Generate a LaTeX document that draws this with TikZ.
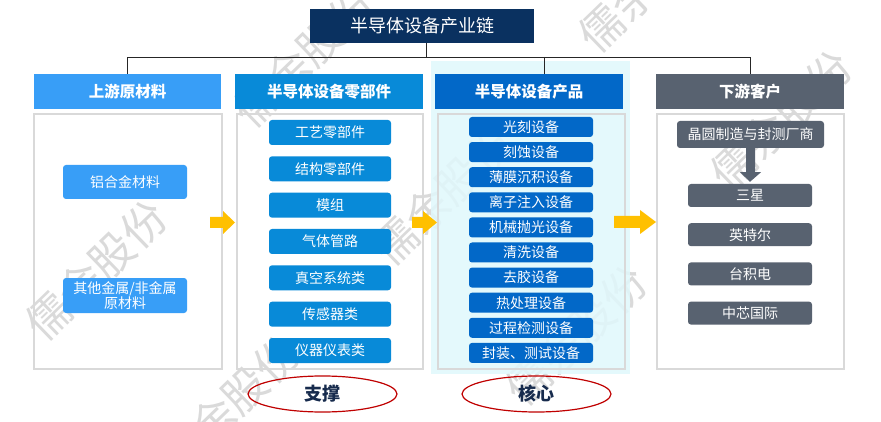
\documentclass[tikz,border=0pt]{standalone}
\usepackage{fontspec}
\setmainfont{Noto Sans CJK SC}
\usetikzlibrary{shapes.geometric}
\definecolor{ctitle}{RGB}{10,49,96}
\definecolor{cone}{RGB}{56,158,247}
\definecolor{ctwo}{RGB}{8,138,216}
\definecolor{cthree}{RGB}{2,104,200}
\definecolor{cfour}{RGB}{88,98,112}
\definecolor{cbg}{RGB}{224,248,252}
\definecolor{cpanel}{RGB}{217,217,217}
\definecolor{cyellow}{RGB}{255,192,0}
\definecolor{cred}{RGB}{192,0,0}
\definecolor{cnavy}{RGB}{23,43,77}
\definecolor{cwm}{RGB}{218,218,218}
\begin{document}
\begin{tikzpicture}[x=1pt,y=-1pt,
  wm/.style={text=cwm, rotate=44, inner sep=0pt, font=\fontsize{44}{44}\selectfont},
  hdr/.style={minimum width=188pt, minimum height=35pt, inner sep=0pt, text=white,
    font=\bfseries\fontsize{15.5}{18}\selectfont},
  panel/.style={draw=cpanel, line width=1.3pt, minimum height=255pt, inner sep=0pt},
  item/.style={rounded corners=3pt, inner sep=0pt, text=white, align=center,
    font=\fontsize{14}{16}\selectfont},
  itemone/.style={item, fill=cone, minimum width=124pt, minimum height=34pt},
  itemtwo/.style={item, fill=ctwo, minimum width=122pt, minimum height=25pt},
  itemthree/.style={item, fill=cthree, minimum width=124pt, minimum height=20pt},
  itemfour/.style={item, fill=cfour, minimum width=124pt, minimum height=23pt},
  conn/.style={draw=black!85, line width=0.8pt},
  blockarrow/.style={fill=cyellow},
  oval/.style={ellipse, draw=cred, line width=1.2pt, minimum width=149pt, minimum height=36pt,
    inner sep=0pt, text=cnavy, font=\bfseries\fontsize{18}{20}\selectfont}
]
\useasboundingbox (0,0) rectangle (881,422);
\fill[white] (0,0) rectangle (881,422);

% watermark
\node[wm] (wa) at (96,270) {儒余股份};
\node[wm] (wb) at (304,57) {儒余股份};
\node[wm] (wc) at (649,-18) {儒余股份};
\node[wm] (wd) at (781,120) {儒余股份};
\node[wm] (we) at (443,195) {儒余股份};
\node[wm] (wf) at (576,335) {儒余股份};
\node[wm] (wg) at (229,405) {儒余股份};

% core background
\fill[cbg, opacity=0.85] (431,61) rectangle (630,374);

% title
\node[fill=ctitle, text=white, minimum width=224pt, minimum height=34pt, inner sep=0pt,
  font=\fontsize{18}{20}\selectfont] (title) at (422,26) {半导体设备产业链};

% headers
\node[hdr, fill=cone, minimum width=187pt] (h1) at (127.5,91.5) {上游原材料};
\node[hdr, fill=ctwo] (h2) at (329,91.5) {半导体设备零部件};
\node[hdr, fill=cthree] (h3) at (529,91.5) {半导体设备产品};
\node[hdr, fill=cfour] (h4) at (750,91.5) {下游客户};

% connectors from title
\coordinate (bus) at (426,57);
\coordinate (busthree) at (544,57);
\draw[conn] (title.south -| bus) -- (bus);
\draw[conn] (h1.north) -- (h1.north |- bus) -- (h4.north |- bus) -- (h4.north);
\draw[conn] (busthree) -- (busthree |- h3.north);

% panels
\node[panel, minimum width=188pt] (pn1) at (128,241.5) {};
\node[panel, minimum width=186pt] (pn2) at (330,241.5) {};
\node[panel, minimum width=187pt] (pn3) at (531.5,241.5) {};
\node[panel, minimum width=187pt] (pn4) at (750.5,241.5) {};

% column 1
\node[itemone] (a1) at (125,182) {铝合金材料};
\node[itemone, minimum height=35pt, font=\fontsize{14}{16.5}\selectfont] (a2) at (125,295.5) {其他金属/非金属\\[-1pt]原材料};

% column 2
\node[itemtwo] (b1) at (330,132.5) {工艺零部件};
\node[itemtwo] (b2) at (330,168.8) {结构零部件};
\node[itemtwo] (b3) at (330,205.2) {模组};
\node[itemtwo] (b4) at (330,241.5) {气体管路};
\node[itemtwo] (b5) at (330,277.8) {真空系统类};
\node[itemtwo] (b6) at (330,314.2) {传感器类};
\node[itemtwo] (b7) at (330,350.5) {仪器仪表类};

% column 3
\node[itemthree] (c1) at (531,127) {光刻设备};
\node[itemthree] (c2) at (531,152.1) {刻蚀设备};
\node[itemthree] (c3) at (531,177.2) {薄膜沉积设备};
\node[itemthree] (c4) at (531,202.3) {离子注入设备};
\node[itemthree] (c5) at (531,227.4) {机械抛光设备};
\node[itemthree] (c6) at (531,252.5) {清洗设备};
\node[itemthree] (c7) at (531,277.6) {去胶设备};
\node[itemthree] (c8) at (531,302.7) {热处理设备};
\node[itemthree] (c9) at (531,327.8) {过程检测设备};
\node[itemthree] (c10) at (531,352.9) {封装、测试设备};

% column 4
\node[itemfour, minimum width=147pt, minimum height=27pt] (d0) at (750.5,134.5) {晶圆制造与封测厂商};
\node[itemfour] (d1) at (750,195.5) {三星};
\node[itemfour] (d2) at (750,234.7) {英特尔};
\node[itemfour] (d3) at (750,273.9) {台积电};
\node[itemfour] (d4) at (750,313.1) {中芯国际};

% down arrow in column 4
\fill[cfour] ([xshift=-4.5pt]d0.south) -- ([xshift=4.5pt]d0.south) -- ([xshift=4.5pt,yshift=-24pt]d0.south)
  -- ([xshift=10.5pt,yshift=-24pt]d0.south) -- ([yshift=2pt]d1.north) -- ([xshift=-10.5pt,yshift=-24pt]d0.south)
  -- ([xshift=-4.5pt,yshift=-24pt]d0.south) -- cycle;

% yellow arrows between columns
\fill[blockarrow] (210,217) -- (223,217) -- (223,211) -- (235,222.5) -- (223,234) -- (223,228) -- (210,228) -- cycle;
\fill[blockarrow] (412,217) -- (423,217) -- (423,211) -- (437,222.5) -- (423,234) -- (423,228) -- (412,228) -- cycle;
\fill[blockarrow] (614,216) -- (640,216) -- (640,210) -- (656,222) -- (640,234) -- (640,228) -- (614,228) -- cycle;

% ovals
\node[oval] (e1) at (322.5,394) {支撑};
\node[oval] (e2) at (536.5,394) {核心};
\end{tikzpicture}
\end{document}
